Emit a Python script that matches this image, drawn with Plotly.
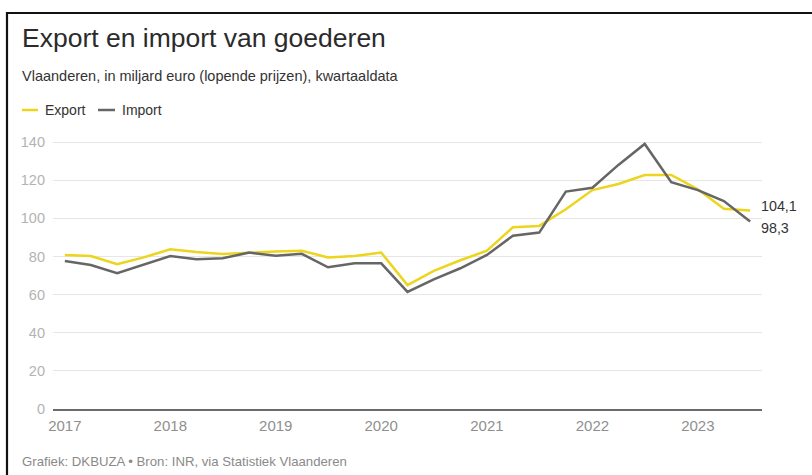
import plotly.graph_objects as go

# ---- data (Vlaanderen, miljard euro, kwartaaldata) ----
quarters = [
    "2017-01-01", "2017-04-01", "2017-07-01", "2017-10-01",
    "2018-01-01", "2018-04-01", "2018-07-01", "2018-10-01",
    "2019-01-01", "2019-04-01", "2019-07-01", "2019-10-01",
    "2020-01-01", "2020-04-01", "2020-07-01", "2020-10-01",
    "2021-01-01", "2021-04-01", "2021-07-01", "2021-10-01",
    "2022-01-01", "2022-04-01", "2022-07-01", "2022-10-01",
    "2023-01-01", "2023-04-01", "2023-07-01",
]
export_vals = [
    80.8, 80.2, 75.9, 79.5,
    83.7, 82.3, 81.3, 82.0,
    82.6, 83.0, 79.5, 80.2,
    82.0, 65.0, 72.4, 78.0,
    83.0, 95.3, 96.0, 104.7,
    114.8, 118.0, 122.7, 122.7,
    115.2, 105.0, 104.1,
]
import_vals = [
    77.6, 75.5, 71.2, 75.8,
    80.2, 78.5, 79.0, 82.0,
    80.4, 81.4, 74.3, 76.4,
    76.4, 61.4, 68.0, 73.8,
    80.8, 90.9, 92.5, 114.0,
    116.0, 128.0, 139.0, 118.9,
    114.8, 109.0, 98.3,
]
year_ticks = ["2017-01-01", "2018-01-01", "2019-01-01", "2020-01-01",
              "2021-01-01", "2022-01-01", "2023-01-01"]
year_labels = ["2017", "2018", "2019", "2020", "2021", "2022", "2023"]
y_ticks = [0, 20, 40, 60, 80, 100, 120, 140]

title = "Export en import van goederen"
subtitle = "Vlaanderen, in miljard euro (lopende prijzen), kwartaaldata"
footer = "Grafiek: DKBUZA • Bron: INR, via Statistiek Vlaanderen"
series_names = ["Export", "Import"]

# ---- style ----
YELLOW = "#ecd51c"
GREY = "#666666"
FONT = "Liberation Sans, Arial, Helvetica, sans-serif"

W, H = 812, 475
L, R, T, B = 53, 50, 130, 66
plot_w = W - L - R
plot_h = H - T - B


def px_x(px):
    return (px - L) / plot_w


def px_y(py):
    return (H - B - py) / plot_h


fig = go.Figure()
fig.add_trace(go.Scatter(x=quarters, y=export_vals, mode="lines",
                         name=series_names[0],
                         line=dict(color=YELLOW, width=2.5),
                         showlegend=False))
fig.add_trace(go.Scatter(x=quarters, y=import_vals, mode="lines",
                         name=series_names[1],
                         line=dict(color=GREY, width=2.5),
                         showlegend=False))

annotations = [
    dict(text=title, xref="paper", yref="paper", x=px_x(20), y=px_y(38),
         xanchor="left", yanchor="middle", showarrow=False,
         font=dict(size=26.5, color="#2b2b2b", family=FONT)),
    dict(text=subtitle, xref="paper", yref="paper", x=px_x(20), y=px_y(76),
         xanchor="left", yanchor="middle", showarrow=False,
         font=dict(size=14.5, color="#333333", family=FONT)),
    dict(text=series_names[0], xref="paper", yref="paper", x=px_x(43), y=px_y(110),
         xanchor="left", yanchor="middle", showarrow=False,
         font=dict(size=14, color="#333333", family=FONT)),
    dict(text=series_names[1], xref="paper", yref="paper", x=px_x(120), y=px_y(110),
         xanchor="left", yanchor="middle", showarrow=False,
         font=dict(size=14, color="#333333", family=FONT)),
    dict(text=footer, xref="paper", yref="paper", x=px_x(20), y=px_y(461),
         xanchor="left", yanchor="middle", showarrow=False,
         font=dict(size=13.2, color="#8a8a8a", family=FONT)),
    dict(text=f"{export_vals[-1]:.1f}".replace(".", ","), x=quarters[-1], y=export_vals[-1],
         xref="x", yref="y", xanchor="left", yanchor="middle", showarrow=False,
         xshift=9, yshift=4, font=dict(size=14.3, color="#333333", family=FONT)),
    dict(text=f"{import_vals[-1]:.1f}".replace(".", ","), x=quarters[-1], y=import_vals[-1],
         xref="x", yref="y", xanchor="left", yanchor="middle", showarrow=False,
         xshift=9, yshift=-6, font=dict(size=14.3, color="#333333", family=FONT)),
]

shapes = [
    # frame (top and left edges visible)
    dict(type="rect", xref="paper", yref="paper",
         x0=px_x(7), x1=px_x(W + 20), y0=px_y(H + 20), y1=px_y(13),
         line=dict(color="#111111", width=2.2), layer="above"),
    # legend swatches
    dict(type="line", xref="paper", yref="paper", x0=px_x(22), x1=px_x(38),
         y0=px_y(110), y1=px_y(110), line=dict(color=YELLOW, width=2.5)),
    dict(type="line", xref="paper", yref="paper", x0=px_x(98), x1=px_x(115),
         y0=px_y(110), y1=px_y(110), line=dict(color=GREY, width=2.5)),
]

fig.update_layout(
    width=W, height=H,
    margin=dict(l=L, r=R, t=T, b=B, pad=0),
    paper_bgcolor="white", plot_bgcolor="white",
    font=dict(family=FONT, size=13, color="#999999"),
    showlegend=False,
    annotations=annotations,
    shapes=shapes,
    xaxis=dict(
        type="date",
        range=["2016-11-21", "2023-08-11"],
        tickvals=year_ticks, ticktext=year_labels,
        showgrid=False, zeroline=False,
        showline=True, linecolor="#6b6b6b", linewidth=2,
        ticks="", ticklabelstandoff=2,
        tickfont=dict(size=15, color="#8f8f8f", family=FONT),
        fixedrange=True,
    ),
    yaxis=dict(
        range=[0, 146.3],
        tickvals=y_ticks,
        showgrid=True, gridcolor="#e6e6e6", gridwidth=1,
        zeroline=False, showline=False,
        ticks="", ticklabelstandoff=7,
        tickfont=dict(size=14.5, color="#b3b3b3", family=FONT),
        fixedrange=True,
    ),
)

fig.write_html(
    "out.html",
    config={"displayModeBar": False},
    post_script="document.body.style.margin='0px';document.body.style.overflow='hidden';",
)
